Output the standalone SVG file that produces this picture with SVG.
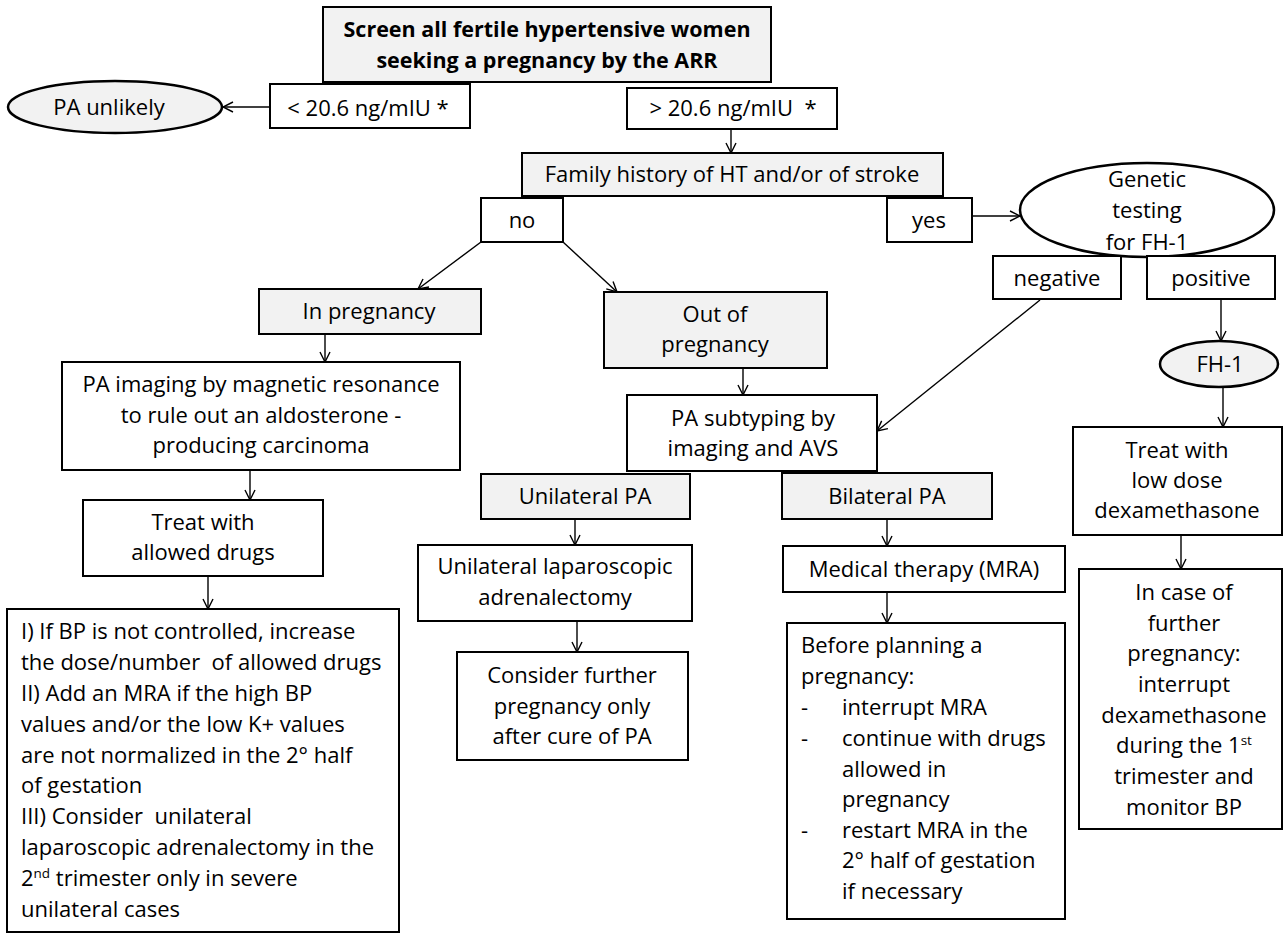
<svg xmlns="http://www.w3.org/2000/svg" width="1284" height="934" viewBox="0 0 1284 934">
<defs>
<style>
.bx{fill:#ffffff;stroke:#000;stroke-width:2}
.gy{fill:#f2f2f2;stroke:#000;stroke-width:2}
.el{fill:#f2f2f2;stroke:#000;stroke-width:2.5}
.ew{fill:#ffffff;stroke:#000;stroke-width:2.5}
text{font-family:"Open Sans","Liberation Sans",sans-serif;font-size:22px;fill:#000}
.c{text-anchor:middle}
.b{font-weight:bold;font-size:21.5px}
.cn line{stroke:#000;stroke-width:1.4;marker-end:url(#ar)}
</style>
<marker id="ar" viewBox="0 0 12 12" refX="11" refY="6" markerWidth="12" markerHeight="12" markerUnits="userSpaceOnUse" orient="auto">
<path d="M1,1 L11,6 L1,11" fill="none" stroke="#000" stroke-width="1.4"/>
</marker>
</defs>
<rect width="1284" height="934" fill="#fff"/>

<g class="cn" id="connectors">
<line x1="270" y1="107" x2="223" y2="107"/>
<line x1="731" y1="129" x2="731" y2="153"/>
<line x1="481" y1="242" x2="418" y2="289"/>
<line x1="563" y1="242" x2="617" y2="292"/>
<line x1="972" y1="216" x2="1020" y2="216"/>
<line x1="1221" y1="299" x2="1221" y2="341"/>
<line x1="1223" y1="387" x2="1223" y2="427"/>
<line x1="1181" y1="535" x2="1181" y2="569"/>
<line x1="1040" y1="300" x2="877" y2="431"/>
<line x1="325" y1="334" x2="325" y2="362"/>
<line x1="250" y1="470" x2="250" y2="500"/>
<line x1="208" y1="576" x2="208" y2="609"/>
<line x1="743" y1="368" x2="743" y2="395"/>
<line x1="575" y1="519" x2="575" y2="545"/>
<line x1="577" y1="621" x2="577" y2="652"/>
<line x1="887" y1="519" x2="887" y2="546"/>
<line x1="887" y1="592" x2="887" y2="623"/>
</g>

<g id="screen">
<rect class="gy" x="323" y="7" width="448" height="75"/>
<text class="c b" x="547" y="37">Screen all fertile hypertensive women</text>
<text class="c b" x="547" y="68">seeking a pregnancy by the ARR</text>
</g>

<g id="low-arr">
<rect class="bx" x="270" y="84" width="200" height="44"/>
<text class="c" x="368" y="116" xml:space="preserve">&lt; 20.6 ng/mIU *</text>
</g>

<g id="pa-unlikely">
<ellipse class="el" cx="115" cy="107" rx="107" ry="26"/>
<text class="c" x="109" y="115">PA unlikely</text>
</g>

<g id="high-arr">
<rect class="bx" x="627" y="88" width="210" height="41"/>
<text class="c" x="733" y="116" xml:space="preserve">&gt; 20.6 ng/mIU  *</text>
</g>

<g id="family">
<rect class="gy" x="522" y="153" width="421" height="43"/>
<text class="c" x="732" y="182">Family history of HT and/or of stroke</text>
</g>

<g id="no">
<rect class="bx" x="481" y="198" width="82" height="44"/>
<text class="c" x="522" y="228">no</text>
</g>

<g id="yes">
<rect class="bx" x="887" y="198" width="85" height="44"/>
<text class="c" x="929" y="228">yes</text>
</g>

<g id="genetic">
<ellipse class="ew" cx="1147" cy="210" rx="127" ry="47"/>
<text class="c" x="1147" y="187">Genetic</text>
<text class="c" x="1147" y="218">testing</text>
<text class="c" x="1147" y="250">for FH-1</text>
</g>

<g id="negative">
<rect class="bx" x="993" y="256" width="128" height="43"/>
<text class="c" x="1057" y="286">negative</text>
</g>

<g id="positive">
<rect class="bx" x="1147" y="256" width="128" height="43"/>
<text class="c" x="1211" y="286">positive</text>
</g>

<g id="fh1">
<ellipse class="el" cx="1219" cy="364" rx="59" ry="23"/>
<text class="c" x="1220" y="372">FH-1</text>
</g>

<g id="treat-dex">
<rect class="bx" x="1073" y="427" width="209" height="108"/>
<text class="c" x="1177" y="458">Treat with</text>
<text class="c" x="1177" y="488">low dose</text>
<text class="c" x="1177" y="518">dexamethasone</text>
</g>

<g id="in-case">
<rect class="bx" x="1079" y="569" width="203" height="260"/>
<text class="c" x="1184" y="600">In case of</text>
<text class="c" x="1184" y="631">further</text>
<text class="c" x="1184" y="661">pregnancy:</text>
<text class="c" x="1184" y="692">interrupt</text>
<text class="c" x="1184" y="723">dexamethasone</text>
<text class="c" x="1184" y="753">during the 1<tspan font-size="13.5" dy="-8">st</tspan></text>
<text class="c" x="1184" y="784">trimester and</text>
<text class="c" x="1184" y="815">monitor BP</text>
</g>

<g id="in-pregnancy">
<rect class="gy" x="259" y="289" width="222" height="45"/>
<text class="c" x="369" y="319">In pregnancy</text>
</g>

<g id="out-pregnancy">
<rect class="gy" x="604" y="292" width="223" height="76"/>
<text class="c" x="715" y="322">Out of</text>
<text class="c" x="715" y="352">pregnancy</text>
</g>

<g id="pa-imaging">
<rect class="bx" x="62" y="362" width="398" height="108"/>
<text class="c" x="261" y="392">PA imaging by magnetic resonance</text>
<text class="c" x="261" y="423">to rule out an aldosterone -</text>
<text class="c" x="261" y="453">producing carcinoma</text>
</g>

<g id="treat-allowed">
<rect class="bx" x="83" y="500" width="240" height="76"/>
<text class="c" x="203" y="530">Treat with</text>
<text class="c" x="203" y="560">allowed drugs</text>
</g>

<g id="pregnancy-steps">
<rect class="bx" x="7" y="609" width="392" height="323"/>
<text x="21" y="639">I) If BP is not controlled, increase</text>
<text x="21" y="670" xml:space="preserve">the dose/number  of allowed drugs</text>
<text x="21" y="701">II) Add an MRA if the high BP</text>
<text x="21" y="732">values and/or the low K+ values</text>
<text x="21" y="763">are not normalized in the 2° half</text>
<text x="21" y="793">of gestation</text>
<text x="21" y="824" xml:space="preserve">III) Consider  unilateral</text>
<text x="21" y="855">laparoscopic adrenalectomy in the</text>
<text x="21" y="886">2<tspan font-size="13.5" dy="-8">nd</tspan><tspan dy="8"> trimester only in severe</tspan></text>
<text x="21" y="917">unilateral cases</text>
</g>

<g id="pa-subtyping">
<rect class="bx" x="627" y="395" width="250" height="76"/>
<text class="c" x="753" y="426">PA subtyping by</text>
<text class="c" x="753" y="456">imaging and AVS</text>
</g>

<g id="unilateral">
<rect class="gy" x="481" y="474" width="209" height="45"/>
<text class="c" x="585" y="504">Unilateral PA</text>
</g>

<g id="adrenalectomy">
<rect class="bx" x="418" y="545" width="274" height="76"/>
<text class="c" x="555" y="574">Unilateral laparoscopic</text>
<text class="c" x="555" y="605">adrenalectomy</text>
</g>

<g id="consider">
<rect class="bx" x="457" y="652" width="231" height="108"/>
<text class="c" x="572" y="683">Consider further</text>
<text class="c" x="572" y="714">pregnancy only</text>
<text class="c" x="572" y="744">after cure of PA</text>
</g>

<g id="bilateral">
<rect class="gy" x="782" y="473" width="210" height="46"/>
<text class="c" x="887" y="504">Bilateral PA</text>
</g>

<g id="medical">
<rect class="bx" x="783" y="546" width="282" height="46"/>
<text class="c" x="924" y="577">Medical therapy (MRA)</text>
</g>

<g id="before-planning">
<rect class="bx" x="787" y="623" width="278" height="296"/>
<text x="801" y="653">Before planning a</text>
<text x="801" y="684">pregnancy:</text>
<text x="801" y="715">-</text>
<text x="842" y="715">interrupt MRA</text>
<text x="801" y="746">-</text>
<text x="842" y="746">continue with drugs</text>
<text x="842" y="777">allowed in</text>
<text x="842" y="807">pregnancy</text>
<text x="801" y="838">-</text>
<text x="842" y="838">restart MRA in the</text>
<text x="842" y="868">2° half of gestation</text>
<text x="842" y="899">if necessary</text>
</g>
</svg>
